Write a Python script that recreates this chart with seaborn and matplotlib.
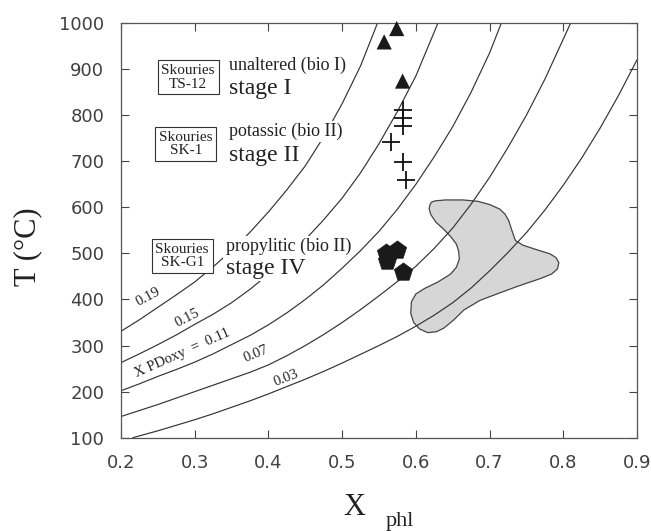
import numpy as np
import pandas as pd
import matplotlib
matplotlib.use("Agg")
import matplotlib.pyplot as plt
import seaborn as sns

# ---- isopleth curves (X_phl, T degC) ----
iso_labels = ["0.19", "0.15", "0.11", "0.07", "0.03"]
x_019 = [0.20, 0.225, 0.25, 0.275, 0.30, 0.325, 0.35, 0.375, 0.40, 0.425, 0.45,
         0.475, 0.50, 0.525, 0.548]
t_019 = [331, 356, 383, 410, 438, 471, 506, 546, 590, 638, 690, 753, 825, 907, 1000]
x_015 = [0.20, 0.225, 0.25, 0.275, 0.30, 0.325, 0.35, 0.375, 0.40, 0.425, 0.45,
         0.475, 0.50, 0.525, 0.55, 0.575, 0.60, 0.63]
t_015 = [263, 282, 302, 323, 346, 368, 393, 422, 455, 491, 530, 573, 620, 675,
         738, 808, 885, 1000]
x_011 = [0.20, 0.225, 0.25, 0.275, 0.30, 0.325, 0.35, 0.375, 0.40, 0.425, 0.45,
         0.475, 0.50, 0.525, 0.55, 0.575, 0.60, 0.625, 0.65, 0.675, 0.70, 0.716]
t_011 = [202, 217, 233, 248, 264, 282, 302, 322, 345, 371, 400, 432, 468, 506,
         548, 596, 650, 710, 775, 850, 935, 1000]
x_007 = [0.20, 0.225, 0.25, 0.275, 0.30, 0.325, 0.35, 0.375, 0.40, 0.425, 0.45,
         0.475, 0.50, 0.525, 0.55, 0.575, 0.60, 0.625, 0.65, 0.675, 0.70, 0.725,
         0.75, 0.775, 0.80, 0.81]
t_007 = [146, 159, 172, 186, 200, 214, 228, 242, 258, 278, 300, 324, 350, 378,
         408, 439, 472, 511, 555, 607, 665, 730, 800, 878, 965, 1000]
x_003 = [0.216, 0.25, 0.275, 0.30, 0.325, 0.35, 0.375, 0.40, 0.425, 0.45, 0.475,
         0.50, 0.525, 0.55, 0.575, 0.60, 0.625, 0.65, 0.675, 0.70, 0.725, 0.75,
         0.775, 0.80, 0.825, 0.85, 0.875, 0.90]
t_003 = [100, 115, 127, 139, 152, 166, 180, 195, 211, 227, 244, 262, 281, 300,
         320, 342, 366, 393, 425, 462, 502, 545, 594, 648, 707, 772, 843, 920]

# ---- sample points ----
tri_x = [0.574, 0.557, 0.582]           # Skouries TS-12 (unaltered, bio I)
tri_t = [988, 959, 874]
cross_x = [0.582, 0.582, 0.582, 0.566, 0.583, 0.586]   # SK-1 (potassic)
cross_t = [811, 794, 776, 742, 699, 659]
pent_x = [0.559, 0.574, 0.561, 0.583]   # SK-G1 (propylitic)
pent_t = [501, 507, 483, 459]

# ---- grey field outline ----
field_x = [0.619, 0.621, 0.626, 0.640, 0.664, 0.684, 0.700, 0.714, 0.721, 0.726,
           0.730, 0.735, 0.745, 0.760, 0.782, 0.790, 0.794, 0.792, 0.784, 0.770,
           0.737, 0.710, 0.687, 0.665, 0.651, 0.638, 0.628, 0.616, 0.605, 0.597,
           0.593, 0.594, 0.600, 0.612, 0.630, 0.647, 0.655, 0.659, 0.658, 0.655,
           0.648, 0.638, 0.627, 0.620, 0.618]
field_t = [605, 611, 614, 616, 616, 613, 606, 596, 585, 571,
           551, 528, 518, 510, 499, 491, 480, 466, 455, 446,
           428, 412, 398, 377, 355, 338, 330, 328, 336, 350,
           370, 395, 412, 424, 438, 455, 470, 488, 505, 520,
           535, 552, 568, 585, 597]

x_ticks = [0.2, 0.3, 0.4, 0.5, 0.6, 0.7, 0.8, 0.9]
y_ticks = [100, 200, 300, 400, 500, 600, 700, 800, 900, 1000]

sns.set_style("ticks")
plt.rcParams["font.family"] = ["DejaVu Sans"]

fig = plt.figure(figsize=(6.51, 5.31), dpi=100)
ax = fig.add_axes([0.1859, 0.1757, 0.7926, 0.7810])

rows = []
for lab, xs, ts in zip(iso_labels, [x_019, x_015, x_011, x_007, x_003],
                       [t_019, t_015, t_011, t_007, t_003]):
    for a, b in zip(xs, ts):
        rows.append((lab, a, b))
df = pd.DataFrame(rows, columns=["iso", "x", "T"])

ax.fill(field_x, field_t, facecolor="#d6d6d6", edgecolor="#444444", lw=0.9,
        zorder=1, joinstyle="round")
sns.lineplot(data=df, x="x", y="T", units="iso", estimator=None, sort=False,
             color="#333333", lw=0.85, ax=ax, zorder=2)

sns.scatterplot(x=tri_x, y=tri_t, marker="^", s=120, color="#1a1a1a",
                edgecolor="none", ax=ax, zorder=5, clip_on=False)
sns.scatterplot(x=cross_x, y=cross_t, marker="+", s=170, color="#111111",
                linewidth=1.3, ax=ax, zorder=5)
sns.scatterplot(x=pent_x, y=pent_t, marker="p", s=190, color="#1a1a1a",
                edgecolor="#1a1a1a", linewidth=0.5, ax=ax, zorder=5)

ax.set_xlim(0.2, 0.9)
ax.set_ylim(100, 1000)
ax.set_xticks(x_ticks)
ax.set_yticks(y_ticks)
ax.set_xticklabels([f"{v:.1f}" for v in x_ticks])
ax.set_yticklabels([str(v) for v in y_ticks])
ax.tick_params(direction="in", length=6, width=0.8, top=True, right=True,
               labelsize=13, labelcolor="#404040", color="#444444", pad=12)
for sp in ax.spines.values():
    sp.set_color("#555555")
    sp.set_linewidth(0.9)
ax.set_xlabel("")
ax.set_ylabel("")

serif = ["Liberation Serif", "DejaVu Serif"]
fig.text(0.042, 0.535, "T (°C)", rotation=90, ha="center", va="center",
         fontsize=22, family=serif, color="#222222")
fig.text(0.545, 0.045, "X", ha="center", va="center", fontsize=22,
         family=serif, color="#222222")
fig.text(0.593, 0.017, "phl", ha="left", va="center", fontsize=16,
         family=serif, color="#222222")

# boxes and stage labels
box = dict(boxstyle="square,pad=0.25", fc="white", ec="#333333", lw=0.8)
wbg = dict(boxstyle="square,pad=0.1", fc="white", ec="none")
ax.text(0.291, 882, "Skouries\nTS-12", ha="center", va="center", fontsize=11,
        family=serif, linespacing=1.05, bbox=box, zorder=6, color="#222222")
ax.text(0.288, 737, "Skouries\nSK-1", ha="center", va="center", fontsize=11,
        family=serif, linespacing=1.05, bbox=box, zorder=6, color="#222222")
ax.text(0.283, 494, "Skouries\nSK-G1", ha="center", va="center", fontsize=11,
        family=serif, linespacing=1.05, bbox=box, zorder=6, color="#222222")

ax.text(0.347, 908, "unaltered (bio I)", ha="left", va="center", fontsize=13,
        family=serif, bbox=wbg, zorder=6, color="#222222")
ax.text(0.347, 858, "stage I", ha="left", va="center", fontsize=17,
        family=serif, bbox=wbg, zorder=6, color="#222222")
ax.text(0.347, 765, "potassic (bio II)", ha="left", va="center", fontsize=13,
        family=serif, bbox=wbg, zorder=6, color="#222222")
ax.text(0.347, 712, "stage II", ha="left", va="center", fontsize=17,
        family=serif, bbox=wbg, zorder=6, color="#222222")
ax.text(0.342, 515, "propylitic (bio II)", ha="left", va="center", fontsize=13,
        family=serif, bbox=wbg, zorder=6, color="#222222")
ax.text(0.342, 468, "stage IV", ha="left", va="center", fontsize=17,
        family=serif, bbox=wbg, zorder=6, color="#222222")

# isopleth labels
lab_kw = dict(ha="center", va="center", fontsize=10.5, family=serif, color="#222222")
ax.text(0.237, 405, "0.19", rotation=28, **lab_kw)
ax.text(0.290, 360, "0.15", rotation=27, **lab_kw)
ax.text(0.283, 284, "X PDoxy  =  0.11", rotation=24, **lab_kw)
ax.text(0.383, 281, "0.07", rotation=22, **lab_kw)
ax.text(0.424, 229, "0.03", rotation=21, **lab_kw)

fig.savefig("out.png", dpi=100)
